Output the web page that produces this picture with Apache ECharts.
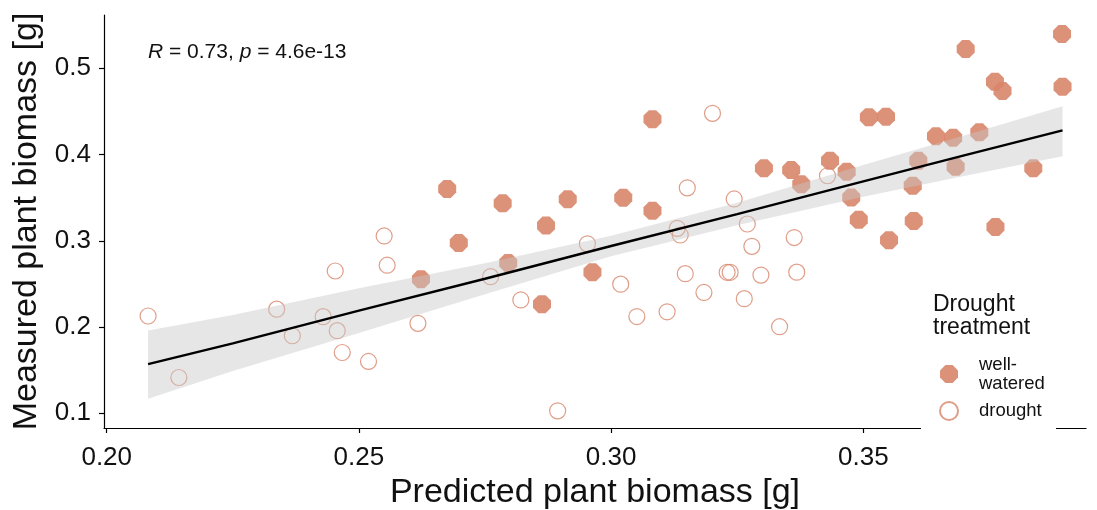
<!DOCTYPE html>
<html>
<head>
<meta charset="utf-8">
<script src="https://cdn.jsdelivr.net/npm/echarts@6/dist/echarts.min.js"></script>
<style>
  html, body { margin: 0; padding: 0; background: #fff; }
  #chart { width: 1097px; height: 510px; }
</style>
</head>
<body>
<div id="chart"></div>
<script>
// drought treatment (hollow points)
const droughtX = [0.2082, 0.2143, 0.2337, 0.2368, 0.2429, 0.2453, 0.2457, 0.2467, 0.2519, 0.2550,
                  0.2556, 0.2617, 0.2761, 0.2821, 0.2894, 0.2953, 0.3019, 0.3051, 0.3111, 0.3131,
                  0.3137, 0.3147, 0.3151, 0.3184, 0.3201, 0.3230, 0.3236, 0.3244, 0.3264, 0.3270,
                  0.3279, 0.3297, 0.3334, 0.3363, 0.3368, 0.3429];
const droughtY = [0.2128, 0.1415, 0.2207, 0.1899, 0.2120, 0.2650, 0.1958, 0.1705, 0.1601, 0.3056,
                  0.2717, 0.2043, 0.2584, 0.2314, 0.1029, 0.2965, 0.2497, 0.2122, 0.2177, 0.3145,
                  0.3067, 0.2619, 0.3614, 0.2401, 0.4478, 0.2635, 0.2635, 0.3485, 0.2329, 0.3195,
                  0.2936, 0.2603, 0.2004, 0.3038, 0.2636, 0.3754];

// well-watered (filled points)
const wellX = [0.2623, 0.2675, 0.2698, 0.2785, 0.2796, 0.2863, 0.2871, 0.2914, 0.2963, 0.3024,
               0.3082, 0.3082, 0.3303, 0.3357, 0.3377, 0.3434, 0.3467, 0.3476, 0.3491, 0.3511,
               0.3545, 0.3551, 0.3598, 0.3600, 0.3609, 0.3644, 0.3678, 0.3683, 0.3703, 0.3730,
               0.3761, 0.3776, 0.3762, 0.3837, 0.3894, 0.3895];
const wellY = [0.2554, 0.3601, 0.2975, 0.3435, 0.2743, 0.2265, 0.3177, 0.3482, 0.2636, 0.3499,
               0.4410, 0.3348, 0.3841, 0.3821, 0.3655, 0.3929, 0.3801, 0.3502, 0.3245, 0.4433,
               0.4439, 0.3007, 0.3639, 0.3230, 0.3929, 0.4212, 0.4195, 0.3858, 0.5224, 0.4258,
               0.4845, 0.4737, 0.3160, 0.3841, 0.5398, 0.4787];

// fitted line and its confidence band
const fitX     = [0.2082, 0.225, 0.25, 0.275, 0.30, 0.325, 0.35, 0.37, 0.3895];
const fitY     = [0.157, 0.181, 0.219, 0.256, 0.294, 0.331, 0.369, 0.399, 0.428];
const bandLow  = [0.117, 0.149, 0.193, 0.238, 0.282, 0.318, 0.351, 0.375, 0.398];
const bandHigh = [0.196, 0.214, 0.245, 0.274, 0.306, 0.344, 0.388, 0.422, 0.456];

const xTicks = [0.20, 0.25, 0.30, 0.35];
const yTicks = [0.1, 0.2, 0.3, 0.4, 0.5];

const FONT = '"Liberation Sans", Arial, sans-serif';
const PT = '#d8856a';
const OCTAGON = 'path://M0.3,0 L0.7,0 L1,0.3 L1,0.7 L0.7,1 L0.3,1 L0,0.7 L0,0.3 Z';

const chart = echarts.init(document.getElementById('chart'), null, { renderer: 'canvas' });

const option = {
    animation: false,
    backgroundColor: '#fff',
    grid: { left: 104, right: 11, top: 15, bottom: 82, outerBoundsMode: 'none' },
    xAxis: {
        type: 'value',
        min: 0.19946,
        max: 0.39415,
        name: 'Predicted plant biomass [g]',
        nameLocation: 'middle',
        nameGap: 48,
        nameTextStyle: { fontFamily: FONT, fontSize: 34, color: '#111' },
        axisLine: { lineStyle: { color: '#000', width: 1.2 } },
        axisTick: { length: 5, customValues: xTicks, lineStyle: { color: '#000', width: 1.2 } },
        axisLabel: {
            customValues: xTicks,
            margin: 17,
            fontFamily: FONT, fontSize: 26, color: '#111',
            formatter: v => v.toFixed(2),
        },
        splitLine: { show: false },
    },
    yAxis: {
        type: 'value',
        min: 0.08296,
        max: 0.5618,
        name: 'Measured plant biomass [g]',
        nameLocation: 'middle',
        nameGap: 53,
        nameTextStyle: { fontFamily: FONT, fontSize: 34, color: '#111' },
        axisLine: { show: true, lineStyle: { color: '#000', width: 1.2 } },
        axisTick: { show: true, length: 5, customValues: yTicks, lineStyle: { color: '#000', width: 1.2 } },
        axisLabel: {
            customValues: yTicks,
            margin: 13,
            fontFamily: FONT, fontSize: 26, color: '#111',
            formatter: v => v.toFixed(1),
        },
        splitLine: { show: false },
    },
    legend: {
        orient: 'vertical',
        left: 939,
        top: 355,
        padding: 0,
        z: 60,
        itemWidth: 18,
        itemHeight: 18,
        itemGap: 8,
        data: ['well-watered', 'drought'],
        formatter: n => (n === 'well-watered' ? 'well-\nwatered' : n),
        textStyle: { fontFamily: FONT, fontSize: 18.5, lineHeight: 19, color: '#111', padding: [0, 0, 0, 16] },
    },
    graphic: [
        { type: 'rect', z: 50, shape: { x: 921, y: 283, width: 135, height: 152 }, style: { fill: '#fff' } },
        {
            type: 'text', z: 55, left: 933, top: 293,
            style: { text: 'Drought\ntreatment', font: '23px ' + FONT, lineHeight: 23, fill: '#111' },
        },
        {
            type: 'text', z: 55, left: 148, top: 42,
            style: {
                text: '{i|R} = 0.73, {i|p} = 4.6e-13',
                font: '21px ' + FONT,
                fill: '#111',
                rich: { i: { fontStyle: 'italic', fontSize: 21, fontFamily: FONT } },
            },
        },
    ],
    series: [
        {
            name: 'well-watered',
            type: 'scatter',
            z: 2,
            symbol: OCTAGON,
            symbolSize: 18,
            itemStyle: { color: PT, opacity: 0.9 },
            data: wellX.map((x, i) => [x, wellY[i]]),
        },
        {
            name: 'drought',
            type: 'scatter',
            z: 2,
            symbol: 'circle',
            symbolSize: 16,
            itemStyle: { color: 'rgba(255,255,255,0)', borderColor: PT, borderWidth: 1.2 },
            data: droughtX.map((x, i) => [x, droughtY[i]]),
        },
        {
            name: 'band',
            type: 'custom',
            z: 3,
            silent: true,
            data: fitX.map((x, i) => [x, bandLow[i], bandHigh[i]]),
            encode: { x: 0, y: [1, 2] },
            renderItem: (params, api) => {
                if (params.dataIndex !== 0) return;
                const top = fitX.map((x, i) => api.coord([x, bandHigh[i]]));
                const bot = fitX.map((x, i) => api.coord([x, bandLow[i]])).reverse();
                return {
                    type: 'polygon',
                    shape: { points: top.concat(bot) },
                    style: { fill: 'rgba(200,200,200,0.45)' },
                };
            },
        },
        {
            name: 'fit',
            type: 'line',
            z: 4,
            silent: true,
            showSymbol: false,
            lineStyle: { color: '#000', width: 2.4 },
            data: fitX.map((x, i) => [x, fitY[i]]),
        },
    ],
};

chart.setOption(option);
</script>
</body>
</html>
